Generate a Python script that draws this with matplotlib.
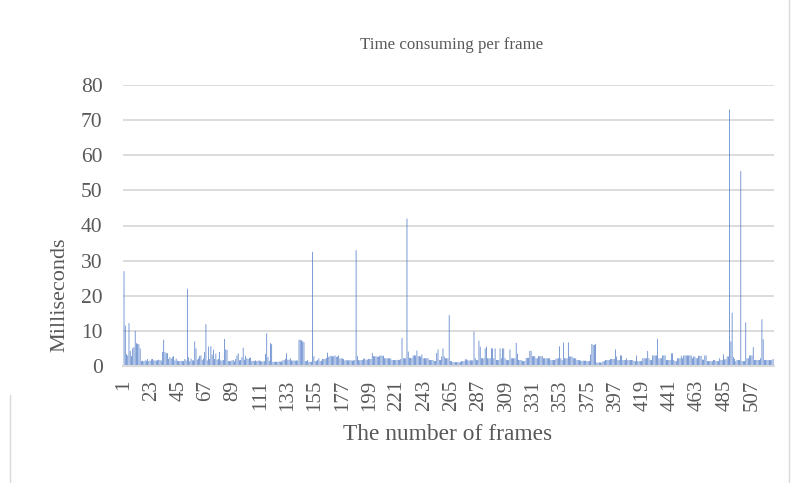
import matplotlib
matplotlib.use("Agg")
import matplotlib.pyplot as plt
from matplotlib.lines import Line2D

# Per-frame processing time in milliseconds (frames 1..524)
ms_per_frame = [
    27.0, 11.5, 3.4, 3.0, 12.2, 4.3, 2.8, 5.0, 5.4, 10.0, 6.5, 6.3, 6.2, 5.0, 1.4, 1.5, 1.4, 1.6, 1.5, 2.0,
    1.4, 1.5, 1.9, 2.0, 1.6, 1.6, 1.5, 1.7, 1.8, 1.7, 1.5, 4.0, 7.5, 4.0, 3.6, 3.7, 2.0, 2.5, 2.1, 2.5,
    2.8, 1.6, 2.1, 1.5, 1.4, 1.4, 1.5, 1.4, 1.4, 2.0, 1.6, 22.0, 2.5, 1.4, 2.1, 1.6, 1.6, 7.0, 5.0, 1.8,
    2.2, 2.9, 3.0, 1.7, 2.1, 4.0, 11.9, 1.6, 5.5, 2.0, 5.6, 3.2, 4.6, 2.0, 3.5, 1.8, 2.0, 4.0, 1.6, 1.6,
    1.7, 7.7, 4.7, 4.6, 1.4, 1.4, 1.4, 1.6, 1.7, 1.3, 2.0, 3.0, 3.6, 1.6, 1.7, 2.5, 5.2, 1.8, 2.9, 2.2,
    2.0, 2.3, 2.4, 1.4, 1.5, 1.4, 1.6, 1.4, 1.5, 1.6, 1.4, 1.3, 1.3, 1.4, 3.4, 9.3, 2.5, 1.5, 6.5, 6.2,
    1.2, 1.2, 1.2, 1.2, 1.2, 1.3, 1.2, 1.3, 1.6, 1.7, 2.1, 3.6, 1.8, 1.8, 2.2, 1.6, 1.5, 1.6, 1.5, 1.6,
    1.5, 7.5, 7.4, 7.3, 7.0, 6.8, 1.4, 1.4, 1.7, 1.2, 1.2, 1.2, 32.5, 2.8, 1.4, 1.4, 1.7, 2.2, 1.4, 1.5,
    2.0, 2.0, 2.0, 2.3, 3.8, 2.6, 2.8, 2.9, 2.7, 2.8, 3.0, 2.6, 2.7, 3.0, 2.1, 2.2, 2.1, 2.0, 1.6, 1.7,
    1.6, 1.6, 1.7, 1.6, 1.5, 1.6, 1.7, 33.0, 2.8, 1.7, 1.6, 1.7, 1.7, 2.1, 2.1, 1.8, 1.8, 2.0, 2.0, 2.0,
    3.7, 2.8, 2.8, 2.7, 2.7, 2.6, 2.9, 3.0, 2.9, 2.9, 2.2, 2.2, 2.2, 2.2, 2.2, 2.1, 1.7, 1.7, 1.7, 1.7,
    1.7, 1.8, 1.7, 2.0, 8.0, 2.2, 2.2, 2.2, 42.0, 4.1, 2.3, 2.3, 2.3, 3.0, 3.0, 3.0, 4.4, 2.8, 2.8, 2.7,
    3.3, 2.2, 2.2, 2.2, 2.2, 2.2, 1.7, 1.7, 1.7, 1.7, 1.4, 1.4, 3.7, 4.7, 1.7, 1.7, 2.7, 5.0, 2.7, 2.2,
    2.2, 2.2, 14.5, 1.4, 1.4, 1.1, 1.1, 1.1, 1.1, 1.1, 1.1, 1.1, 1.4, 1.4, 1.4, 1.9, 1.9, 1.6, 1.6, 1.6,
    1.6, 1.6, 9.8, 2.2, 1.7, 1.7, 7.2, 5.5, 2.2, 2.2, 2.2, 5.0, 5.5, 2.2, 2.2, 2.2, 5.0, 5.0, 2.2, 5.0,
    1.7, 1.7, 1.7, 5.0, 2.2, 5.0, 5.0, 2.2, 1.7, 1.7, 1.7, 4.7, 2.2, 2.2, 2.2, 2.2, 6.6, 3.5, 1.7, 1.7,
    1.7, 1.4, 1.4, 1.4, 2.3, 2.3, 2.3, 4.3, 4.3, 2.8, 2.8, 2.8, 2.2, 2.2, 2.8, 2.8, 2.8, 2.8, 2.2, 2.2,
    2.2, 2.2, 2.2, 2.2, 1.7, 1.7, 1.7, 1.7, 2.0, 2.2, 2.2, 5.6, 2.2, 1.7, 6.7, 2.2, 2.2, 2.2, 6.7, 2.7,
    2.7, 2.7, 2.2, 2.2, 2.2, 1.7, 1.7, 1.7, 1.5, 1.5, 1.5, 1.5, 1.5, 1.4, 1.4, 1.4, 3.3, 6.3, 6.0, 6.0,
    6.3, 1.0, 1.0, 1.0, 1.0, 1.0, 1.4, 1.4, 1.7, 1.7, 1.7, 1.7, 2.0, 2.0, 2.0, 2.0, 4.7, 2.7, 1.7, 1.7,
    3.0, 3.0, 1.7, 1.7, 1.7, 2.2, 1.7, 1.7, 1.7, 1.7, 1.7, 1.4, 1.4, 3.0, 1.4, 1.4, 1.4, 1.4, 2.2, 2.2,
    2.2, 2.2, 4.3, 2.2, 1.7, 1.7, 3.0, 3.0, 3.0, 3.0, 7.7, 2.2, 2.2, 2.2, 3.0, 3.0, 3.0, 1.7, 1.7, 1.7,
    1.7, 3.6, 3.6, 1.7, 1.4, 1.4, 2.2, 2.2, 2.2, 2.9, 2.2, 3.0, 3.0, 3.0, 3.0, 3.0, 3.0, 3.0, 2.2, 2.7,
    2.7, 2.2, 2.2, 2.9, 2.9, 2.9, 1.8, 1.8, 3.0, 3.0, 1.4, 1.4, 1.4, 1.4, 1.4, 1.7, 1.7, 1.4, 1.4, 1.4,
    2.2, 1.7, 1.7, 3.3, 1.9, 1.9, 2.7, 2.7, 73.0, 7.0, 15.2, 2.5, 2.0, 1.4, 1.7, 1.7, 1.7, 55.5, 1.4, 1.4,
    1.4, 12.4, 2.2, 2.2, 3.0, 3.0, 3.0, 5.4, 1.7, 1.7, 1.7, 1.7, 1.7, 2.2, 13.3, 7.6, 1.7, 1.7, 1.7, 1.7,
    1.7, 1.7, 1.7, 2.0,
]
frames = list(range(1, len(ms_per_frame) + 1))
tick_frames = list(range(1, len(ms_per_frame) + 1, 22))
y_ticks = [0, 10, 20, 30, 40, 50, 60, 70, 80]

title_text = "Time consuming per frame"
x_title = "The number of frames"
y_title = "Milliseconds"

text_gray = "#595959"
grid_gray = "#D9D9D9"
bar_blue = "#4472C4"

plt.rcParams["font.family"] = ["Liberation Serif", "DejaVu Serif"]

W, H = 793, 483
fig = plt.figure(figsize=(W / 100, H / 100), dpi=100)

left_px, right_px, top_px, bottom_px = 123.4, 773.7, 85, 366
ax = fig.add_axes([left_px / W, 1 - bottom_px / H,
                   (right_px - left_px) / W, (bottom_px - top_px) / H])

bars = ax.bar(frames, ms_per_frame, width=0.55, color=bar_blue, linewidth=0, zorder=3)
for b in bars:
    b.set_snap(False)

ax.set_xlim(0.5, len(ms_per_frame) + 0.5)
ax.set_ylim(0, 80)
ax.set_yticks(y_ticks)
ax.set_xticks(tick_frames)
ax.set_xticklabels([str(t) for t in tick_frames], rotation=90)

ax.grid(axis="y", color=grid_gray, linewidth=1.3, zorder=0)
ax.set_axisbelow(True)
for side in ("top", "right", "left"):
    ax.spines[side].set_visible(False)
ax.spines["bottom"].set_color(grid_gray)
ax.spines["bottom"].set_linewidth(1.5)
ax.spines["bottom"].set_zorder(4)

ax.tick_params(axis="both", length=0, labelsize=15.5, labelcolor=text_gray)
ax.tick_params(axis="x", labelsize=15, pad=10)
ax.tick_params(axis="y", pad=15)

fig.text(60 / W, 1 - 295 / H, y_title, rotation=90, ha="center", va="center",
         fontsize=16, color=text_gray)
fig.text(448 / W, 1 - 435 / H, x_title, ha="center", va="center",
         fontsize=16.8, color=text_gray)
fig.text(452 / W, 1 - 45 / H, title_text, ha="center", va="center",
         fontsize=12.2, color=text_gray)

# chart-area border fragments
fig.add_artist(Line2D([789 / W, 789 / W], [0, 1], transform=fig.transFigure,
                      color=grid_gray, linewidth=1))
fig.add_artist(Line2D([10 / W, 10 / W], [0, 1 - 395 / H], transform=fig.transFigure,
                      color=grid_gray, linewidth=1))

fig.savefig("out.png", dpi=100, facecolor="white")
